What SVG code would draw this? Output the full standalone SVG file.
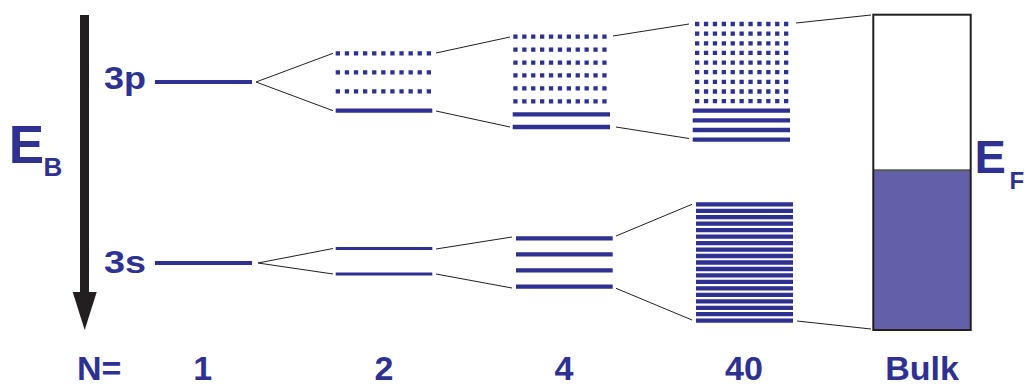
<svg xmlns="http://www.w3.org/2000/svg" width="1026" height="387" viewBox="0 0 1026 387">
<style>
.t{font-family:"Liberation Sans",Arial,sans-serif;font-weight:bold;fill:#2e3192}
.lv{stroke:#2e3192;stroke-width:4.3;fill:none}
.d2{stroke:#2e3192;stroke-width:4.3;stroke-dasharray:4.3 4.8;fill:none}
.d4{stroke:#2e3192;stroke-width:4.3;stroke-dasharray:4.3 4.6;fill:none}
.c{stroke:#231f20;stroke-width:1;fill:none}
.n{font-size:34px}
</style>
<rect width="1026" height="387" fill="#fff"/>
<g id="axis">
<rect x="80" y="15" width="9" height="279" fill="#231f20"/>
<polygon points="72.7,292 96.7,292 84.7,330" fill="#231f20"/>
<text class="t" x="8.8" y="163.3" font-size="53">E</text>
<text class="t" x="43.5" y="175.5" font-size="26">B</text>
</g>
<g id="n1">
<text class="t" x="104" y="89" font-size="31" textLength="42" lengthAdjust="spacingAndGlyphs">3p</text>
<text class="t" x="104" y="273" font-size="31" textLength="42" lengthAdjust="spacingAndGlyphs">3s</text>
<line class="lv" x1="155" y1="82" x2="252" y2="82" style="stroke-width:4"/>
<line class="lv" x1="155" y1="263" x2="252" y2="263" style="stroke-width:4"/>
</g>
<g id="n2">
<line class="d2" x1="335.7" y1="53.3" x2="432" y2="53.3"/>
<line class="d2" x1="335.7" y1="72.3" x2="432" y2="72.3"/>
<line class="d2" x1="335.7" y1="91.3" x2="432" y2="91.3"/>
<line class="lv" x1="335.7" y1="110.7" x2="432.3" y2="110.7"/>
<line class="lv" x1="335.7" y1="248.5" x2="432.3" y2="248.5" style="stroke-width:3"/>
<line class="lv" x1="335.7" y1="274" x2="432.3" y2="274" style="stroke-width:3"/>
</g>
<g id="n4">
<line class="d4" x1="513.3" y1="36.7" x2="607" y2="36.7"/>
<line class="d4" x1="513.3" y1="49.7" x2="607" y2="49.7"/>
<line class="d4" x1="513.3" y1="62.7" x2="607" y2="62.7"/>
<line class="d4" x1="513.3" y1="75.3" x2="607" y2="75.3"/>
<line class="d4" x1="513.3" y1="88.3" x2="607" y2="88.3"/>
<line class="d4" x1="513.3" y1="101.3" x2="607" y2="101.3"/>
<line class="lv" x1="512.7" y1="114.3" x2="610" y2="114.3"/>
<line class="lv" x1="512.7" y1="127" x2="610" y2="127"/>
<line class="lv" x1="516" y1="238.3" x2="612.7" y2="238.3"/>
<line class="lv" x1="516" y1="254.3" x2="612.7" y2="254.3"/>
<line class="lv" x1="516" y1="270.3" x2="612.7" y2="270.3"/>
<line class="lv" x1="516" y1="286.7" x2="612.7" y2="286.7"/>
</g>
<g id="n40">
<line class="d4" x1="695" y1="24" x2="789" y2="24"/>
<line class="d4" x1="695" y1="33.7" x2="789" y2="33.7"/>
<line class="d4" x1="695" y1="43.3" x2="789" y2="43.3"/>
<line class="d4" x1="695" y1="52.9" x2="789" y2="52.9"/>
<line class="d4" x1="695" y1="62.6" x2="789" y2="62.6"/>
<line class="d4" x1="695" y1="72.2" x2="789" y2="72.2"/>
<line class="d4" x1="695" y1="81.8" x2="789" y2="81.8"/>
<line class="d4" x1="695" y1="91.5" x2="789" y2="91.5"/>
<line class="d4" x1="695" y1="101.1" x2="789" y2="101.1"/>
<line class="lv" x1="692.7" y1="110.7" x2="790" y2="110.7"/>
<line class="lv" x1="692.7" y1="120.3" x2="790" y2="120.3"/>
<line class="lv" x1="692.7" y1="130" x2="790" y2="130"/>
<line class="lv" x1="692.7" y1="139.7" x2="790" y2="139.7"/>
<g class="lv">
<line x1="696" y1="204.3" x2="793" y2="204.3"/>
<line x1="696" y1="210.8" x2="793" y2="210.8"/>
<line x1="696" y1="217.2" x2="793" y2="217.2"/>
<line x1="696" y1="223.7" x2="793" y2="223.7"/>
<line x1="696" y1="230.2" x2="793" y2="230.2"/>
<line x1="696" y1="236.6" x2="793" y2="236.6"/>
<line x1="696" y1="243.1" x2="793" y2="243.1"/>
<line x1="696" y1="249.6" x2="793" y2="249.6"/>
<line x1="696" y1="256.0" x2="793" y2="256.0"/>
<line x1="696" y1="262.5" x2="793" y2="262.5"/>
<line x1="696" y1="269.0" x2="793" y2="269.0"/>
<line x1="696" y1="275.4" x2="793" y2="275.4"/>
<line x1="696" y1="281.9" x2="793" y2="281.9"/>
<line x1="696" y1="288.4" x2="793" y2="288.4"/>
<line x1="696" y1="294.8" x2="793" y2="294.8"/>
<line x1="696" y1="301.3" x2="793" y2="301.3"/>
<line x1="696" y1="307.8" x2="793" y2="307.8"/>
<line x1="696" y1="314.2" x2="793" y2="314.2"/>
<line x1="696" y1="320.7" x2="793" y2="320.7"/>
</g>
</g>
<g id="bulk">
<rect x="873.3" y="170.3" width="97.4" height="159.7" fill="#6360a9"/>
<line x1="873.3" y1="170.3" x2="970.7" y2="170.3" stroke="#58595b" stroke-width="2"/>
<rect x="873.3" y="14.7" width="97.4" height="315.3" fill="none" stroke="#231f20" stroke-width="2"/>
<text class="t" x="974.6" y="173" font-size="47">E</text>
<text class="t" x="1009.5" y="189" font-size="24">F</text>
</g>
<g id="connectors">
<line class="c" x1="256" y1="82" x2="333" y2="53.3"/>
<line class="c" x1="256" y1="82" x2="333" y2="110.7"/>
<line class="c" x1="436" y1="53" x2="510" y2="37"/>
<line class="c" x1="436" y1="111" x2="510" y2="127"/>
<line class="c" x1="613" y1="36" x2="689" y2="24"/>
<line class="c" x1="616" y1="127" x2="689" y2="138.5"/>
<line class="c" x1="796" y1="23" x2="871" y2="15"/>
<line class="c" x1="258" y1="263" x2="333" y2="248.5"/>
<line class="c" x1="258" y1="263" x2="333" y2="274"/>
<line class="c" x1="436" y1="249" x2="512" y2="237"/>
<line class="c" x1="436" y1="274" x2="512" y2="288"/>
<line class="c" x1="616" y1="236" x2="692" y2="204.3"/>
<line class="c" x1="616" y1="288.3" x2="692" y2="320"/>
<line class="c" x1="797" y1="321" x2="871" y2="329"/>
</g>
<g id="labels">
<text class="t n" x="77" y="379.5">N=</text>
<text class="t n" x="202.7" y="379.5" text-anchor="middle">1</text>
<text class="t n" x="384" y="379.5" text-anchor="middle">2</text>
<text class="t n" x="564" y="379.5" text-anchor="middle">4</text>
<text class="t n" x="744" y="379.5" text-anchor="middle">40</text>
<text class="t n" x="922" y="379.5" text-anchor="middle">Bulk</text>
</g>
</svg>
